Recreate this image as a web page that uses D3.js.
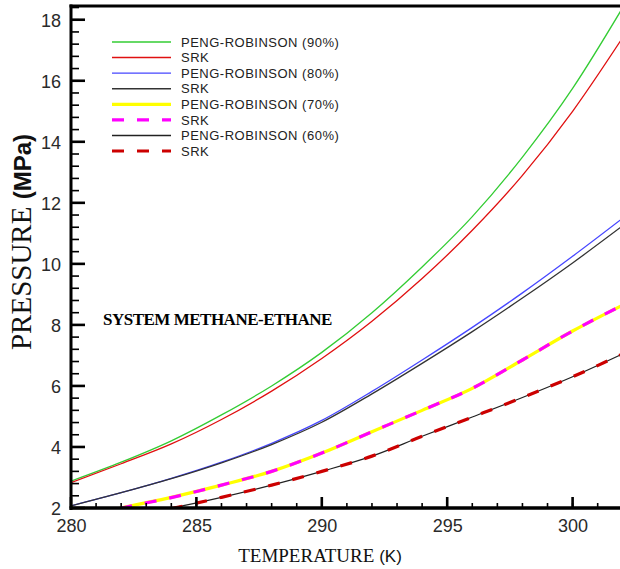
<!DOCTYPE html>
<html>
<head>
<meta charset="utf-8">
<script src="https://cdn.jsdelivr.net/npm/d3@7/dist/d3.min.js"></script>
<style>
  html, body { margin: 0; padding: 0; background: #fff; }
  svg { display: block; }
</style>
</head>
<body>
<div id="chart"></div>
<script>
// Vapour pressure of methane-ethane mixtures, PR vs SRK equations of state
const temps = [280, 282, 284, 286, 288, 290, 292, 294, 296, 298, 300, 302];

const pr90  = [2.88, 3.50, 4.20, 5.05, 6.00, 7.10, 8.40, 9.90, 11.55, 13.50, 15.75, 18.40];
const srk90 = [2.83, 3.45, 4.10, 4.90, 5.83, 6.90, 8.12, 9.52, 11.10, 12.90, 15.00, 17.42];
const pr80  = [2.07, 2.50, 2.97, 3.50, 4.12, 4.87, 5.82, 6.85, 7.92, 9.05, 10.25, 11.50];
const srk80 = [2.07, 2.50, 2.96, 3.48, 4.08, 4.81, 5.74, 6.74, 7.78, 8.88, 10.03, 11.25];

const temps70 = [281, 282, 284, 286, 288, 290, 292, 294, 296, 298, 300, 302];
const pr70  = [1.80, 2.00, 2.35, 2.75, 3.20, 3.80, 4.50, 5.20, 5.92, 6.85, 7.80, 8.65];
const srk70 = [1.78, 1.99, 2.34, 2.75, 3.20, 3.80, 4.50, 5.20, 5.92, 6.85, 7.80, 8.65];

const temps60 = [283, 284, 286, 288, 290, 292, 294, 296, 298, 300, 302];
const pr60  = [1.85, 2.00, 2.35, 2.75, 3.20, 3.70, 4.35, 4.98, 5.62, 6.30, 7.05];
const srk60 = [1.82, 1.98, 2.35, 2.75, 3.20, 3.70, 4.35, 4.98, 5.62, 6.30, 7.05];

const seriesNames = [
  "PENG-ROBINSON (90%)", "SRK",
  "PENG-ROBINSON (80%)", "SRK",
  "PENG-ROBINSON (70%)", "SRK",
  "PENG-ROBINSON (60%)", "SRK"
];

const xTicks = [280, 285, 290, 295, 300];
const yTicks = [2, 4, 6, 8, 10, 12, 14, 16, 18];

const series = [
  { name: seriesNames[0], t: temps,   p: pr90,  color: "#33cc33", width: 1.3, dash: null },
  { name: seriesNames[1], t: temps,   p: srk90, color: "#e01010", width: 1.3, dash: null },
  { name: seriesNames[2], t: temps,   p: pr80,  color: "#4646ff", width: 1.3, dash: null },
  { name: seriesNames[3], t: temps,   p: srk80, color: "#333333", width: 1.3, dash: null },
  { name: seriesNames[4], t: temps70, p: pr70,  color: "#ffff00", width: 3.2, dash: null },
  { name: seriesNames[5], t: temps70, p: srk70, color: "#ff00ff", width: 3.2, dash: "12,13" },
  { name: seriesNames[6], t: temps60, p: pr60,  color: "#222222", width: 1.2, dash: null },
  { name: seriesNames[7], t: temps60, p: srk60, color: "#cc0000", width: 3.2, dash: "12,13" }
];

const W = 620, H = 569;
const mLeft = 71, mTop = 6, mBottom = 508;
const x = d3.scaleLinear().domain([280, 302]).range([mLeft, mLeft + 22 * 25.08]);
const y = d3.scaleLinear().domain([2, 18.45]).range([mBottom, mTop]);

const svg = d3.select("#chart").append("svg")
  .attr("width", W).attr("height", H)
  .attr("viewBox", `0 0 ${W} ${H}`);

svg.append("defs").append("clipPath").attr("id", "plot")
  .append("rect").attr("x", mLeft).attr("y", mTop)
  .attr("width", W - mLeft).attr("height", mBottom - mTop);

// curves
const line = d3.line().curve(d3.curveMonotoneX);
const g = svg.append("g").attr("clip-path", "url(#plot)");
series.forEach(s => {
  g.append("path")
    .attr("d", line(s.t.map((t, i) => [x(t), y(s.p[i])])))
    .attr("fill", "none")
    .attr("stroke", s.color)
    .attr("stroke-width", s.width)
    .attr("stroke-dasharray", s.dash);
});

// tick labels from d3 axes
function styleAxis(sel) {
  sel.select(".domain").remove();
  sel.selectAll(".tick line").remove();
  sel.selectAll(".tick text")
    .attr("fill", "#2a2a2a")
    .style("font-family", "'Liberation Sans', Arial, sans-serif")
    .style("font-size", "18px");
}
svg.append("g").attr("transform", `translate(${mLeft},0)`)
  .call(d3.axisLeft(y).tickValues(yTicks).tickFormat(d3.format("d")))
  .call(styleAxis)
  .selectAll(".tick text").attr("x", -10).attr("dy", "0.36em");
svg.append("g").attr("transform", `translate(0,${mBottom})`)
  .call(d3.axisBottom(x).tickValues(xTicks).tickFormat(d3.format("d")))
  .call(styleAxis)
  .selectAll(".tick text").attr("y", 8).attr("dy", "0.9em");

// frame: left, bottom and top edges
svg.append("rect").attr("x", mLeft - 1.5).attr("y", mTop - 1.5)
  .attr("width", 3).attr("height", mBottom - mTop + 3.5).attr("fill", "#000");
svg.append("rect").attr("x", mLeft - 1.5).attr("y", mBottom - 1.75)
  .attr("width", W - mLeft + 1.5).attr("height", 3.5).attr("fill", "#000");
svg.append("rect").attr("x", mLeft - 1.5).attr("y", mTop - 1.5)
  .attr("width", W - mLeft + 1.5).attr("height", 3).attr("fill", "#000");

// tick marks, pointing into the plot area
const yMinor = d3.range(2, 18.41, 0.4).map(v => +v.toFixed(1));
const xMinor = d3.range(280, 303, 1);
const tickMarks = svg.append("g").attr("fill", "#000");
tickMarks.selectAll("rect.ym").data(yMinor).join("rect").attr("class", "ym")
  .attr("x", mLeft).attr("width", 8)
  .attr("y", d => y(d) - 0.8).attr("height", 1.6);
tickMarks.selectAll("rect.yM").data(yTicks).join("rect").attr("class", "yM")
  .attr("x", mLeft).attr("width", 14)
  .attr("y", d => y(d) - 1.3).attr("height", 2.6);
tickMarks.selectAll("rect.xm").data(xMinor).join("rect").attr("class", "xm")
  .attr("x", d => x(d) - 0.8).attr("width", 1.6)
  .attr("y", mBottom - 5).attr("height", 5);
tickMarks.selectAll("rect.xM").data(xTicks).join("rect").attr("class", "xM")
  .attr("x", d => x(d) - 1.3).attr("width", 2.6)
  .attr("y", mBottom - 11).attr("height", 11);

// axis titles
const xt = svg.append("text")
  .attr("x", 320).attr("y", 562)
  .attr("text-anchor", "middle")
  .style("font-family", "'Liberation Serif', 'Times New Roman', serif")
  .style("font-size", "19px")
  .attr("fill", "#111");
xt.append("tspan").text("TEMPERATURE ");
xt.append("tspan").style("font-family", "'Liberation Sans', Arial, sans-serif").style("font-size", "17px").text("(K)");

const yt = svg.append("text")
  .attr("transform", "translate(31,242) rotate(-90)")
  .attr("text-anchor", "middle")
  .style("font-family", "'Liberation Serif', 'Times New Roman', serif")
  .style("font-size", "29px")
  .attr("fill", "#111");
yt.append("tspan").text("PRESSURE ");
yt.append("tspan").style("font-family", "'Liberation Sans', Arial, sans-serif").style("font-weight", "bold").style("font-size", "24px").text("(MPa)");

// system label
svg.append("text")
  .attr("x", 103).attr("y", 325)
  .style("font-family", "'Liberation Serif', 'Times New Roman', serif")
  .style("font-weight", "bold")
  .style("font-size", "17px")
  .style("letter-spacing", "-0.5px")
  .attr("fill", "#000")
  .text("SYSTEM METHANE-ETHANE");

// legend
const legend = svg.append("g");
const rowY = d3.scaleLinear().domain([0, 7]).range([42, 151]);
series.forEach((s, i) => {
  const yy = rowY(i);
  legend.append("line")
    .attr("x1", 112).attr("x2", 171).attr("y1", yy).attr("y2", yy)
    .attr("stroke", s.color)
    .attr("stroke-width", s.width < 2 ? 1.4 : 3.2)
    .attr("stroke-dasharray", s.dash);
  legend.append("text")
    .attr("x", 181).attr("y", yy + 4.7)
    .style("font-family", "'Liberation Sans', Arial, sans-serif")
    .style("font-size", "13px")
    .style("letter-spacing", "0.5px")
    .attr("fill", "#222")
    .text(s.name);
});
</script>
</body>
</html>
